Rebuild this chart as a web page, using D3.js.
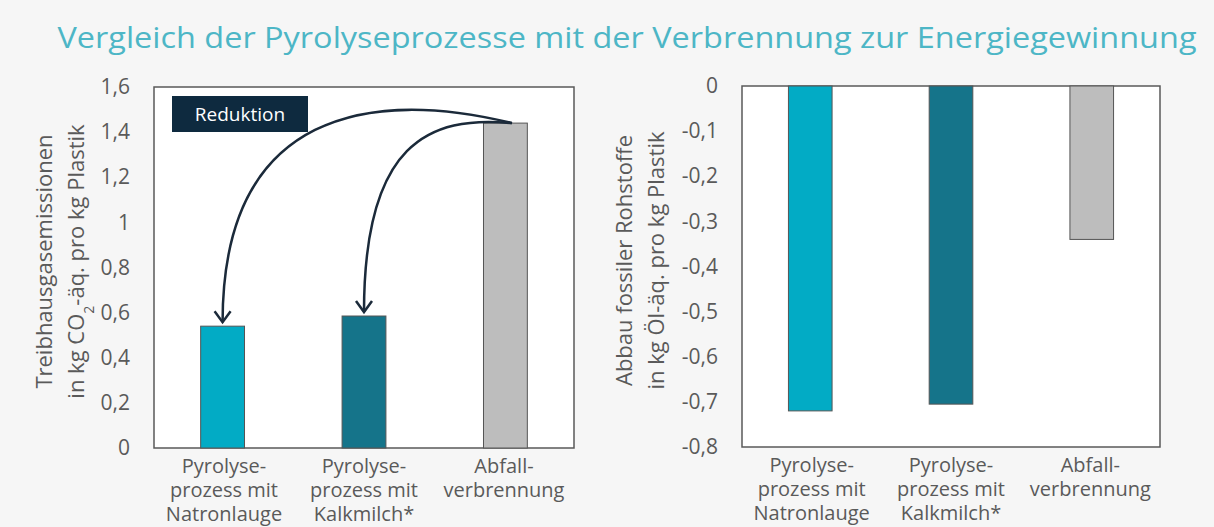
<!DOCTYPE html>
<html>
<head>
<meta charset="utf-8">
<script src="https://cdn.jsdelivr.net/npm/d3@7"></script>
<style>
  body { margin: 0; background: #f6f6f6; }
  text { font-family: "Open Sans", "DejaVu Sans", sans-serif; }
</style>
</head>
<body>
<div id="chart"></div>
<script>
var w = 1214;
var h = 527;

var categories = [
  ["Pyrolyse-", "prozess mit", "Natronlauge"],
  ["Pyrolyse-", "prozess mit", "Kalkmilch*"],
  ["Abfall-", "verbrennung"]
];
var colors = ["#02abc5", "#15748a", "#bdbdbd"];
var ghgValues = [0.54, 0.585, 1.44];
var fossilValues = [-0.72, -0.705, -0.34];
var ghgTicks = [0, 0.2, 0.4, 0.6, 0.8, 1, 1.2, 1.4, 1.6];
var fossilTicks = [0, -0.1, -0.2, -0.3, -0.4, -0.5, -0.6, -0.7, -0.8];

var textColor = "#5a5a5a";
var fmt = function (d) { return String(d).replace(".", ","); };

var svg = d3.select("#chart").append("svg")
  .attr("width", w)
  .attr("height", h);

svg.append("rect").attr("width", w).attr("height", h).attr("fill", "#f6f6f6");

// Title
svg.append("text")
  .attr("x", 627)
  .attr("y", 48)
  .attr("text-anchor", "middle")
  .attr("fill", "#4db6c6")
  .attr("font-size", 30)
  .attr("textLength", 1139)
  .attr("lengthAdjust", "spacingAndGlyphs")
  .text("Vergleich der Pyrolyseprozesse mit der Verbrennung zur Energiegewinnung");

function drawPanel(opts) {
  var g = svg.append("g");

  var x = d3.scaleBand()
    .domain(d3.range(categories.length))
    .range([opts.left, opts.right])
    .paddingInner(0.69)
    .paddingOuter(0.33);

  var y = d3.scaleLinear()
    .domain(opts.domain)
    .range([opts.top, opts.bottom]);

  // plot area
  g.append("rect")
    .attr("x", opts.left)
    .attr("y", opts.top)
    .attr("width", opts.right - opts.left)
    .attr("height", opts.bottom - opts.top)
    .attr("fill", "#ffffff")
    .attr("stroke", "#595959")
    .attr("stroke-width", 1.5);

  // bars
  g.selectAll("rect.bar")
    .data(opts.values)
    .enter()
    .append("rect")
    .attr("class", "bar")
    .attr("x", function (d, i) { return x(i); })
    .attr("y", function (d) { return Math.min(y(d), y(0)); })
    .attr("width", x.bandwidth())
    .attr("height", function (d) { return Math.abs(y(d) - y(0)); })
    .attr("fill", function (d, i) { return colors[i]; })
    .attr("stroke", "#555")
    .attr("stroke-width", 1);

  // y axis labels
  var yAxis = d3.axisLeft(y).tickValues(opts.ticks).tickSize(0).tickPadding(opts.tickPad).tickFormat(fmt);
  var ax = g.append("g").attr("transform", "translate(" + opts.left + ",0)").call(yAxis);
  ax.select(".domain").remove();
  ax.selectAll("text").attr("fill", textColor).attr("font-size", 21)
    .attr("font-family", "'Open Sans', sans-serif");

  // category labels (one text per line, centred on the slot)
  var slot = (opts.right - opts.left) / categories.length;
  categories.forEach(function (lines, i) {
    var cx = opts.left + slot * (i + 0.5);
    lines.forEach(function (l, j) {
      g.append("text")
        .attr("x", cx)
        .attr("y", opts.bottom + 25 + j * 24)
        .attr("text-anchor", "middle")
        .attr("fill", textColor)
        .attr("font-size", 20)
        .text(l);
    });
  });

  // y title
  var yt = g.append("text")
    .attr("transform", "translate(" + opts.titleX + "," + ((opts.top + opts.bottom) / 2 - 6) + ") rotate(-90)")
    .attr("text-anchor", "middle")
    .attr("fill", textColor)
    .attr("font-size", 22);
  opts.titleLines.forEach(function (l, j) {
    var ts = yt.append("tspan").attr("x", 0).attr("dy", j === 0 ? 0 : 32);
    l.forEach(function (part) {
      var s = ts.append("tspan").text(part.t);
      if (part.sub) s.attr("baseline-shift", "sub").attr("font-size", 14);
    });
  });

  return { x: x, y: y };
}

var left = drawPanel({
  left: 154, right: 574, top: 87, bottom: 448,
  domain: [1.6, 0], values: ghgValues, ticks: ghgTicks, tickPad: 24,
  titleX: 52,
  titleLines: [
    [{ t: "Treibhausgasemissionen" }],
    [{ t: "in kg CO" }, { t: "2", sub: true }, { t: "-äq. pro kg Plastik" }]
  ]
});

drawPanel({
  left: 742, right: 1160, top: 86, bottom: 447,
  domain: [0, -0.8], values: fossilValues, ticks: fossilTicks, tickPad: 24,
  titleX: 632,
  titleLines: [
    [{ t: "Abbau fossiler Rohstoffe" }],
    [{ t: "in kg Öl-äq. pro kg Plastik" }]
  ]
});

// Reduktion label
svg.append("rect")
  .attr("x", 172).attr("y", 96).attr("width", 136).attr("height", 36)
  .attr("fill", "#0e2a3f");
svg.append("text")
  .attr("x", 240).attr("y", 121)
  .attr("text-anchor", "middle")
  .attr("fill", "#ffffff")
  .attr("font-size", 19)
  .text("Reduktion");

// Arrows from the combustion bar to the pyrolysis bars
var lx = left.x, ly = left.y;
var sx = lx(2) + lx.bandwidth() * 0.65, sy = ly(ghgValues[2]);
var arrowColor = "#1b2a3a";
[0, 1].forEach(function (i) {
  var ex = lx(i) + lx.bandwidth() / 2;
  var ey = ly(ghgValues[i]) - 4;
  var c1 = i === 0 ? [ex + 150, sy - 34] : [ex + 65, sy - 8];
  var c2 = i === 0 ? [ex, sy - 14] : [ex, sy + 20];
  svg.append("path")
    .attr("d", "M" + sx + "," + sy + " C" + c1[0] + "," + c1[1] + " " + c2[0] + "," + c2[1] + " " + ex + "," + ey)
    .attr("fill", "none")
    .attr("stroke", arrowColor)
    .attr("stroke-width", 2.5);
  svg.append("path")
    .attr("d", "M" + (ex - 8) + "," + (ey - 11) + " L" + ex + "," + ey + " L" + (ex + 8) + "," + (ey - 11))
    .attr("fill", "none")
    .attr("stroke", arrowColor)
    .attr("stroke-width", 2.5);
});
</script>
</body>
</html>
